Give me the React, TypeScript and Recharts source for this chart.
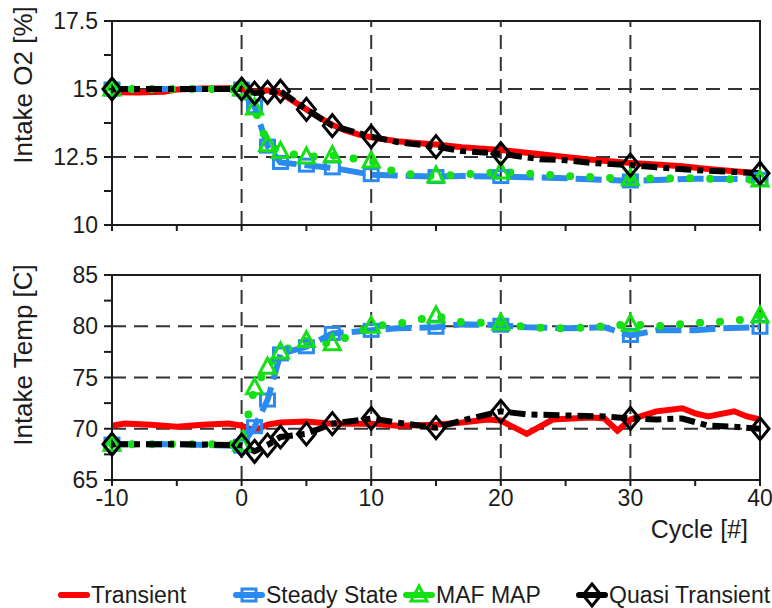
import React from 'react'
import { LineChart, Line, XAxis, YAxis, ReferenceLine, ReferenceArea, Legend, Label } from 'recharts'

const cycleTicks = [-10, -5, 0, 5, 10, 15, 20, 25, 30, 35, 40]
const cycleLabels = [-10, 0, 10, 20, 30, 40]
const cycleGrid = [0, 10, 20, 30]
const markerCycles = [-10, 0, 1, 2, 3, 5, 7, 10, 15, 20, 30, 40]

const o2Ticks = [10, 11.25, 12.5, 13.75, 15, 16.25, 17.5]
const o2Labels = [10, 12.5, 15, 17.5]
const o2Grid = [12.5, 15]

const tempTicks = [65, 67.5, 70, 72.5, 75, 77.5, 80, 82.5, 85]
const tempLabels = [65, 70, 75, 80, 85]
const tempGrid = [70, 75, 80]

// Intake O2 [%]
const o2TransientCycles = [-10, -8, -6, -5, -3, -1, 0, 1, 2, 3, 4, 5, 6, 7, 8, 9, 10, 12, 14, 15, 17, 20, 22, 25, 27, 30, 32, 34, 36, 38, 40]
const o2Transient = [14.88, 14.87, 14.9, 14.98, 15.02, 15.03, 15.0, 14.88, 14.95, 14.85, 14.55, 14.25, 13.95, 13.68, 13.48, 13.33, 13.22, 13.08, 13.0, 12.96, 12.86, 12.76, 12.66, 12.5, 12.4, 12.28, 12.22, 12.16, 12.06, 11.98, 11.9]
const o2SteadyCycles = [-10, -5, 0, 1, 2, 3, 5, 7, 10, 12, 15, 17, 20, 25, 30, 35, 40]
const o2Steady = [15.0, 15.0, 15.0, 14.35, 12.9, 12.3, 12.2, 12.1, 11.85, 11.82, 11.78, 11.8, 11.78, 11.72, 11.62, 11.7, 11.68]
const o2MafCycles = [-10, -5, 0, 1, 2, 3, 5, 7, 10, 12, 15, 17, 20, 25, 30, 35, 40]
const o2Maf = [15.0, 15.0, 15.0, 14.3, 12.95, 12.7, 12.5, 12.55, 12.35, 11.9, 11.8, 11.85, 11.95, 11.8, 11.7, 11.72, 11.65]
const o2QuasiCycles = [-10, -5, 0, 1, 2, 3, 5, 7, 10, 12, 15, 17, 20, 23, 25, 27, 30, 32, 35, 38, 40]
const o2Quasi = [15.0, 15.0, 15.0, 14.85, 14.88, 14.92, 14.25, 13.65, 13.25, 13.05, 12.88, 12.72, 12.62, 12.42, 12.38, 12.28, 12.2, 12.12, 12.02, 11.95, 11.9]

// Intake Temp [C]
const tempTransientCycles = [-10, -9, -7, -5, -3, -1, 0, 1, 2, 3, 5, 7, 10, 12, 15, 17, 19, 20, 22, 24, 27, 28, 29, 30, 32, 34, 35, 36, 38, 39, 40]
const tempTransient = [70.3, 70.5, 70.4, 70.2, 70.4, 70.5, 70.3, 69.8, 70.4, 70.6, 70.7, 70.5, 70.5, 70.3, 70.4, 70.6, 70.9, 70.8, 69.5, 70.9, 71.1, 71.0, 69.8, 70.9, 71.7, 72.0, 71.5, 71.2, 71.7, 71.2, 70.9]
const tempSteadyCycles = [-10, -5, 0, 1, 2, 3, 5, 7, 10, 12, 15, 17, 20, 22, 25, 28, 30, 32, 35, 37, 40]
const tempSteady = [68.5, 68.5, 68.3, 70.2, 72.8, 77.3, 78.0, 79.3, 79.6, 79.8, 79.9, 80.2, 80.1, 79.9, 79.8, 79.9, 79.1, 79.6, 79.6, 79.8, 79.9]
const tempMafCycles = [-10, -5, 0, 1, 2, 3, 5, 7, 10, 12, 15, 17, 20, 22, 25, 27, 30, 32, 34, 36, 38, 40]
const tempMaf = [68.5, 68.5, 68.5, 74.0, 76.0, 77.5, 78.6, 78.3, 80.0, 80.2, 81.0, 80.4, 80.3, 79.9, 79.8, 79.9, 80.2, 80.0, 80.2, 80.4, 80.5, 81.0]
const tempQuasiCycles = [-10, -5, 0, 1, 2, 3, 5, 7, 10, 12, 15, 17, 20, 22, 25, 28, 30, 32, 34, 36, 38, 40]
const tempQuasi = [68.5, 68.5, 68.4, 67.8, 68.4, 69.2, 69.5, 70.5, 71.0, 70.6, 70.1, 70.8, 71.7, 71.4, 71.3, 71.2, 71.0, 70.9, 71.0, 70.3, 70.2, 70.0]

const FONT = '"Liberation Sans", Arial, sans-serif'
const INK = '#1c1c1c'
const GRID = '#333333'

type Shape = 'none' | 'square' | 'triangle' | 'diamond'

interface SeriesStyle {
  name: string
  color: string
  width: number
  dash?: string
  cap?: 'round' | 'butt'
  marker: Shape
}

const seriesStyles: SeriesStyle[] = [
  { name: 'Transient', color: '#ff0000', width: 6, marker: 'none' },
  { name: 'Steady State', color: '#2a8af0', width: 6, dash: '26 8', marker: 'square' },
  { name: 'MAF MAP', color: '#14e014', width: 8, dash: '0 20', cap: 'round', marker: 'triangle' },
  { name: 'Quasi Transient', color: '#000000', width: 6, dash: '16 6 6 6', marker: 'diamond' },
]

const legendLeft = [57, 232, 402, 575]

function toPoints(cycles: number[], values: number[]) {
  return cycles.map((cycle, i) => ({ cycle, value: values[i], marker: markerCycles.includes(cycle) }))
}

function Marker({ shape, x, y, color }: { shape: Shape; x: number; y: number; color: string }) {
  if (shape === 'square')
    return <rect x={x - 7} y={y - 6} width={14} height={12} fill="none" stroke={color} strokeWidth={3} />
  if (shape === 'triangle')
    return <polygon points={`${x},${y - 9} ${x + 8},${y + 6} ${x - 8},${y + 6}`} fill="none" stroke={color} strokeWidth={3} />
  if (shape === 'diamond')
    return <polygon points={`${x},${y - 11} ${x + 9},${y} ${x},${y + 11} ${x - 9},${y}`} fill="none" stroke={color} strokeWidth={3} />
  return null
}

function renderDot(s: SeriesStyle) {
  return (props: any) => {
    const { cx, cy, payload, index } = props
    const k = `${s.name}-${index}`
    if (!payload?.marker || cx == null || cy == null) return <g key={k} />
    return (
      <g key={k}>
        <Marker shape={s.marker} x={cx} y={cy} color={s.color} />
      </g>
    )
  }
}

function LegendBox() {
  return (
    <div style={{ position: 'relative', width: 772, height: 26, fontFamily: FONT, fontSize: 23, color: INK }}>
      {seriesStyles.map((s, i) => (
        <div key={s.name} style={{ position: 'absolute', left: legendLeft[i], top: 0, height: 26, display: 'flex', alignItems: 'center', whiteSpace: 'nowrap' }}>
          <svg width={34} height={26}>
            <line x1={4} y1={13} x2={30} y2={13} stroke={s.color} strokeWidth={6} strokeLinecap="round" />
            <Marker shape={s.marker} x={17} y={13} color={s.color} />
          </svg>
          <span>{s.name}</span>
        </div>
      ))}
    </div>
  )
}

interface PanelProps {
  height: number
  top: number
  domain: [number, number]
  ticks: number[]
  labels: number[]
  grid: number[]
  title: string
  titleY: number
  series: { cycle: number; value: number; marker: boolean }[][]
  bottom?: boolean
}

function Panel({ height, top, domain, ticks, labels, grid, title, titleY, series, bottom }: PanelProps) {
  return (
    <LineChart width={772} height={height} margin={{ top, right: 12, bottom: 0, left: 0 }}>
      <XAxis
        dataKey="cycle"
        type="number"
        domain={[-10, 40]}
        ticks={cycleTicks}
        interval={0}
        height={bottom ? 102 : 25}
        tickSize={6}
        tickMargin={4}
        axisLine={{ stroke: INK, strokeWidth: 2 }}
        tickLine={{ stroke: INK, strokeWidth: 2 }}
        tick={(p: any) =>
          bottom && cycleLabels.includes(p.payload.value) ? (
            <text x={p.x} y={p.y} dy="0.71em" textAnchor="middle" fontSize={23} fontFamily={FONT} fill={INK}>
              {p.payload.value}
            </text>
          ) : (
            <g />
          )
        }
      >
        {bottom && (
          <Label
            content={(p: any) => (
              <text x={p.viewBox.x + p.viewBox.width - 12} y={p.viewBox.y + 58} textAnchor="end" fontSize={25} fontFamily={FONT} fill={INK}>
                Cycle [#]
              </text>
            )}
          />
        )}
      </XAxis>
      <YAxis
        type="number"
        domain={domain}
        ticks={ticks}
        interval={0}
        width={112}
        tickSize={8}
        tickMargin={6}
        axisLine={{ stroke: INK, strokeWidth: 2 }}
        tickLine={{ stroke: INK, strokeWidth: 2 }}
        tick={(p: any) =>
          labels.includes(p.payload.value) ? (
            <text x={p.x} y={p.y} textAnchor="end" dominantBaseline="central" fontSize={23} fontFamily={FONT} fill={INK}>
              {p.payload.value}
            </text>
          ) : (
            <g />
          )
        }
      >
        <Label
          content={(p: any) => {
            const cx = 23
            const cy = p.viewBox.y + titleY
            return (
              <text x={cx} y={cy} transform={`rotate(-90 ${cx} ${cy})`} textAnchor="middle" dominantBaseline="central" fontSize={26} fontFamily={FONT} fill={INK}>
                {title}
              </text>
            )
          }}
        />
      </YAxis>
      <ReferenceArea x1={-10} x2={40} y1={domain[0]} y2={domain[1]} fill="none" stroke={INK} strokeWidth={2} fillOpacity={0} />
      {cycleGrid.map((c) => (
        <ReferenceLine key={`gx${c}`} x={c} stroke={GRID} strokeWidth={2} strokeDasharray="14 8" />
      ))}
      {grid.map((v) => (
        <ReferenceLine key={`gy${v}`} y={v} stroke={GRID} strokeWidth={2} strokeDasharray="14 8" />
      ))}
      {seriesStyles.map((s, i) => (
        <Line
          key={s.name}
          data={series[i]}
          dataKey="value"
          name={s.name}
          type="linear"
          stroke={s.color}
          strokeWidth={s.width}
          strokeDasharray={s.dash}
          strokeLinecap={s.cap ?? 'butt'}
          dot={s.marker === 'none' ? false : renderDot(s)}
          activeDot={false}
          isAnimationActive={false}
        />
      ))}
      {bottom && <Legend verticalAlign="bottom" height={26} wrapperStyle={{ left: 0, width: 772 }} content={() => <LegendBox />} />}
    </LineChart>
  )
}

export default function App() {
  const o2Series = [
    toPoints(o2TransientCycles, o2Transient),
    toPoints(o2SteadyCycles, o2Steady),
    toPoints(o2MafCycles, o2Maf),
    toPoints(o2QuasiCycles, o2Quasi),
  ]
  const tempSeries = [
    toPoints(tempTransientCycles, tempTransient),
    toPoints(tempSteadyCycles, tempSteady),
    toPoints(tempMafCycles, tempMaf),
    toPoints(tempQuasiCycles, tempQuasi),
  ]
  return (
    <div style={{ position: 'absolute', left: 0, top: 0, width: 772, height: 608, background: '#fff', fontFamily: FONT, overflow: 'hidden' }}>
      <Panel height={250} top={21} domain={[10, 17.5]} ticks={o2Ticks} labels={o2Labels} grid={o2Grid} title="Intake O2 [%]" titleY={64} series={o2Series} />
      <Panel height={358} top={25} domain={[65, 85]} ticks={tempTicks} labels={tempLabels} grid={tempGrid} title="Intake Temp [C]" titleY={80} series={tempSeries} bottom />
    </div>
  )
}
